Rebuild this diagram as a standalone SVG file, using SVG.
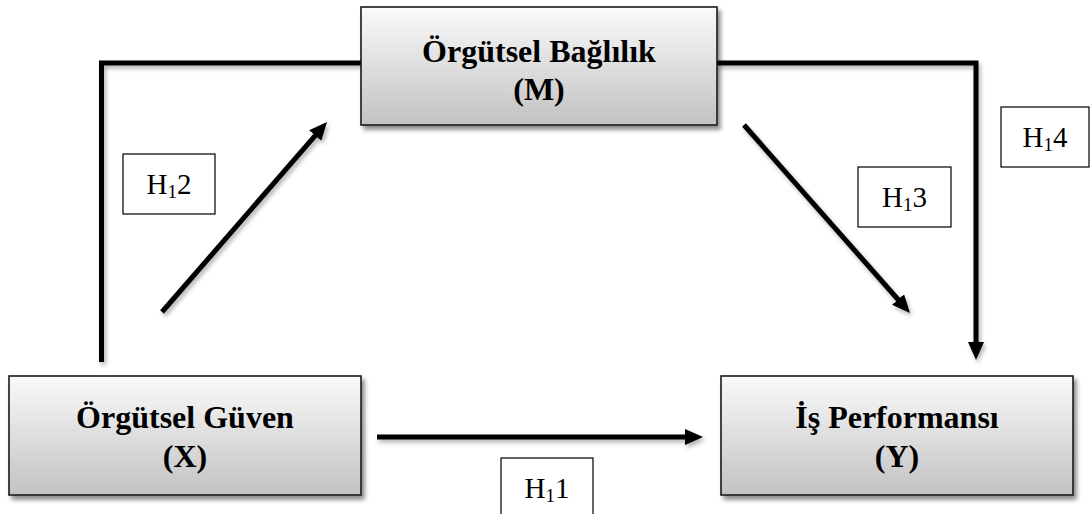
<svg xmlns="http://www.w3.org/2000/svg" width="1090" height="514" viewBox="0 0 1090 514">
  <style>
    .box { fill: url(#boxFill); stroke: #1a1a1a; stroke-width: 1.6; filter: url(#boxShadow); }
    .title { font-family: 'Liberation Serif', Tinos, 'Times New Roman', Times, 'DejaVu Serif', serif; font-weight: bold; font-size: 32px; fill: #000; text-anchor: middle; }
    .tag { fill: #fff; stroke: #000; stroke-width: 1.2; }
    .tagText { font-family: 'Liberation Serif', Tinos, 'Times New Roman', Times, 'DejaVu Serif', serif; font-size: 29px; fill: #000; text-anchor: middle; }
    .wire { fill: none; stroke: #000; stroke-width: 5; stroke-linecap: butt; stroke-linejoin: miter; }
    .arrow { marker-end: url(#head); }
  </style>
  <defs>
    <linearGradient id="boxFill" x1="0" y1="0" x2="0" y2="1">
      <stop offset="0" stop-color="#fafafa"/>
      <stop offset="1" stop-color="#c2c2c2"/>
    </linearGradient>
    <filter id="boxShadow" x="-5%" y="-10%" width="115%" height="130%">
      <feDropShadow dx="3" dy="4" stdDeviation="2.2" flood-color="#000" flood-opacity="0.45"/>
    </filter>
    <filter id="wireShadow" x="-5%" y="-5%" width="115%" height="115%">
      <feDropShadow dx="2" dy="3" stdDeviation="2" flood-color="#000" flood-opacity="0.3"/>
    </filter>
    <marker id="head" markerUnits="userSpaceOnUse" markerWidth="20" markerHeight="18" refX="4" refY="8" orient="auto">
      <path d="M0,0 L18,8 L0,16 Z" fill="#000"/>
    </marker>
  </defs>

  <!-- connectors -->
  <g id="connectors" filter="url(#wireShadow)">
    <!-- X to M (H1 2) via the left bracket -->
    <path class="wire" d="M361,63 H101.5 V362"/>
    <!-- M to Y (H1 4) via the right bracket -->
    <path class="wire arrow" d="M717,63 H976 V346"/>
    <!-- X to M diagonal -->
    <path class="wire arrow" d="M162,312 L317.8,132.6"/>
    <!-- M to Y diagonal -->
    <path class="wire arrow" d="M744,125 L900.7,302.5"/>
    <!-- X to Y -->
    <path class="wire arrow" d="M377,437 H689"/>
  </g>

  <!-- nodes -->
  <g id="node-m">
    <rect class="box" x="361" y="7" width="356" height="118"/>
    <text class="title" font-family="Liberation Serif, serif" x="539" y="62">Örgütsel Bağlılık</text>
    <text class="title" font-family="Liberation Serif, serif" x="539" y="100">(M)</text>
  </g>
  <g id="node-x">
    <rect class="box" x="9" y="376" width="352" height="119"/>
    <text class="title" x="185" y="428">Örgütsel Güven</text>
    <text class="title" x="185" y="467">(X)</text>
  </g>
  <g id="node-y">
    <rect class="box" x="721" y="376" width="352" height="119"/>
    <text class="title" x="897" y="428">İş Performansı</text>
    <text class="title" x="897" y="467">(Y)</text>
  </g>

  <!-- hypothesis labels -->
  <g id="label-h11">
    <rect class="tag" x="501" y="458" width="92" height="62"/>
    <text class="tagText" x="547" y="498">H<tspan font-size="19" dy="4">1</tspan><tspan dy="-4">1</tspan></text>
  </g>
  <g id="label-h12">
    <rect class="tag" x="123" y="154" width="92" height="60"/>
    <text class="tagText" x="169" y="194">H<tspan font-size="19" dy="4">1</tspan><tspan dy="-4">2</tspan></text>
  </g>
  <g id="label-h13">
    <rect class="tag" x="858" y="167" width="93" height="60"/>
    <text class="tagText" x="904.5" y="207">H<tspan font-size="19" dy="4">1</tspan><tspan dy="-4">3</tspan></text>
  </g>
  <g id="label-h14">
    <rect class="tag" x="1001" y="107" width="88" height="60"/>
    <text class="tagText" x="1045" y="147">H<tspan font-size="19" dy="4">1</tspan><tspan dy="-4">4</tspan></text>
  </g>
</svg>
